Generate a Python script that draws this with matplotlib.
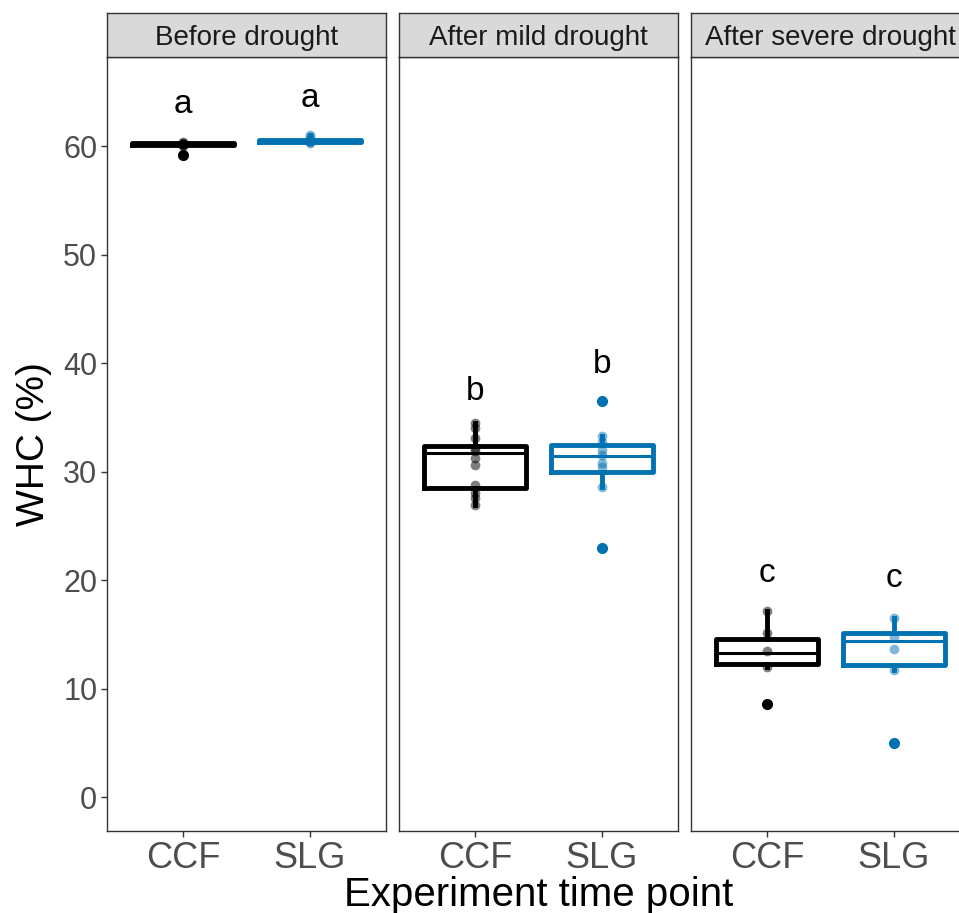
import numpy as np
import matplotlib
matplotlib.use("Agg")
from matplotlib import pyplot as plt

plt.rcParams['font.family'] = ['Liberation Sans', 'DejaVu Sans']

# drought stages and genotypes
stages = ["Before drought", "After mild drought", "After severe drought"]
genotypes = ["CCF", "SLG"]
colors = {"CCF": "#000000", "SLG": "#0072B2"}

# box summaries: whisker low, Q1, median, Q3, whisker high
box_ccf = [
    [60.0, 60.1, 60.2, 60.3, 60.4],
    [26.9, 28.5, 31.7, 32.4, 34.5],
    [12.0, 12.3, 13.3, 14.6, 17.2],
]
box_slg = [
    [60.3, 60.4, 60.5, 60.6, 61.0],
    [28.6, 30.0, 31.4, 32.5, 33.3],
    [11.7, 12.2, 14.4, 15.1, 16.5],
]
outliers_ccf = [[59.2], [], [8.6]]
outliers_slg = [[], [36.5, 23.0], [5.0]]

# individual WHC measurements
points_ccf = [
    [59.2, 60.0, 60.1, 60.2, 60.2, 60.3, 60.4],
    [34.5, 34.0, 33.1, 32.2, 31.9, 31.3, 30.6, 28.8, 28.0, 27.6, 26.9],
    [17.2, 15.1, 13.5, 12.0, 8.6],
]
points_slg = [
    [60.3, 60.4, 60.5, 60.6, 60.8, 61.0],
    [36.5, 33.3, 32.7, 32.0, 31.5, 30.8, 30.4, 28.6, 23.0],
    [16.5, 14.8, 13.7, 11.7, 5.0],
]

# significance letters and their heights
letters = ["a", "b", "c"]
letter_y_ccf = [63.0, 36.6, 19.8]
letter_y_slg = [63.6, 39.1, 19.4]

boxes = {"CCF": box_ccf, "SLG": box_slg}
outliers = {"CCF": outliers_ccf, "SLG": outliers_slg}
points = {"CCF": points_ccf, "SLG": points_slg}
letter_y = {"CCF": letter_y_ccf, "SLG": letter_y_slg}

W, H = 959, 913
fig = plt.figure(figsize=(W / 100, H / 100), dpi=100)

panel_lefts = [107, 399, 691]
panel_w = 279
top, bottom = 57, 831
strip_top = 13

for i, stage in enumerate(stages):
    ax = fig.add_axes([panel_lefts[i] / W, 1 - bottom / H, panel_w / W, (bottom - top) / H])
    for j, g in enumerate(genotypes):
        lo, q1, med, q3, hi = boxes[g][i]
        stats = [dict(whislo=lo, q1=q1, med=med, q3=q3, whishi=hi, fliers=outliers[g][i])]
        c = colors[g]
        ax.bxp(stats, positions=[j + 1], widths=0.8, showcaps=False,
               boxprops=dict(color=c, linewidth=3.5),
               medianprops=dict(color=c, linewidth=2.2),
               whiskerprops=dict(color=c, linewidth=3.5),
               flierprops=dict(marker='o', markerfacecolor=c, markeredgecolor=c,
                               markersize=7, linestyle='none'))
        pts = points[g][i]
        ax.plot(np.full(len(pts), j + 1), pts, 'o', color=c, alpha=0.5,
                markersize=7, markeredgewidth=0, zorder=4)
        ax.text(j + 1, letter_y[g][i], letters[i], ha='center', va='baseline',
                fontsize=24, color='black')

    ax.set_xlim(0.4, 2.6)
    ax.set_ylim(-3.1, 68.2)
    ax.set_xticks([1, 2])
    ax.set_xticklabels(genotypes, fontsize=26, color='#4D4D4D')
    ax.set_yticks(range(0, 61, 10))
    if i == 0:
        ax.set_yticklabels([str(v) for v in range(0, 61, 10)], fontsize=22, color='#4D4D4D')
        ax.set_ylabel("WHC (%)", fontsize=28, labelpad=8)
    else:
        ax.tick_params(axis='y', left=False, labelleft=False)
    ax.tick_params(axis='both', length=4, width=1.0, color='#333333', pad=3)
    for s in ax.spines.values():
        s.set_color('#333333')
        s.set_linewidth(1.0)
    if i == 1:
        ax.set_xlabel("Experiment time point", fontsize=29, labelpad=0)

    # facet strip on top of each panel
    sax = fig.add_axes([panel_lefts[i] / W, 1 - top / H, panel_w / W, (top - strip_top) / H])
    sax.set_facecolor('#D9D9D9')
    sax.set_xticks([])
    sax.set_yticks([])
    for s in sax.spines.values():
        s.set_color('#333333')
        s.set_linewidth(1.0)
    sax.text(0.5, 0.27, stage, transform=sax.transAxes, ha='center', va='baseline',
             fontsize=20, color='#1A1A1A')

fig.savefig("out.png", dpi=100)
